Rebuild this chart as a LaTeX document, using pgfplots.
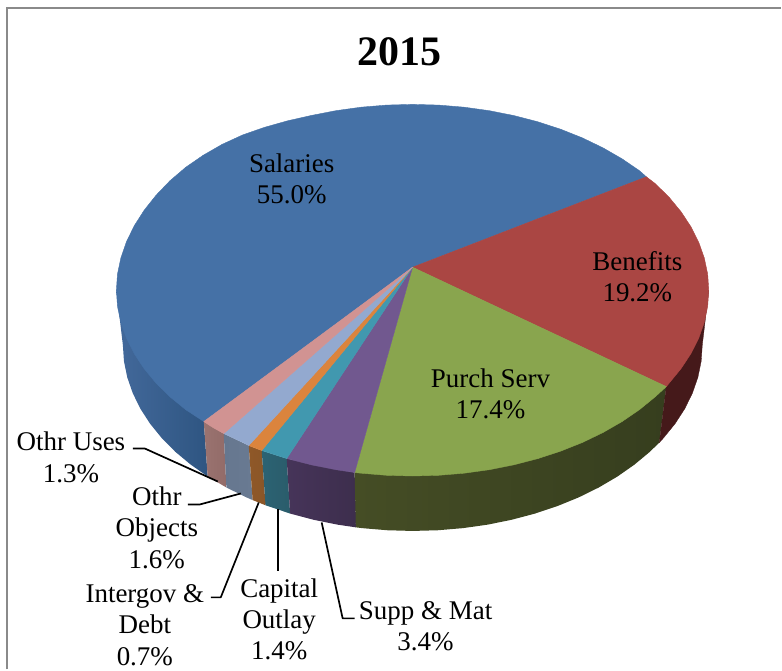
\documentclass[border=0pt]{standalone}
\usepackage{pgfplots}
\pgfplotsset{compat=1.18}
\usepackage{fontspec}
\setmainfont{Liberation Serif}
\definecolor{cBlue}{HTML}{4571A6}
\definecolor{cRed}{HTML}{AA4643}
\definecolor{cGreen}{HTML}{89A54E}
\definecolor{cPurple}{HTML}{71588F}
\definecolor{cTeal}{HTML}{4198AF}
\definecolor{cOrange}{HTML}{DB843D}
\definecolor{cPeri}{HTML}{93A9CF}
\definecolor{cPink}{HTML}{D19392}
\definecolor{frameC}{HTML}{8A8A8A}
\definecolor{wBlueL}{HTML}{43699B}
\definecolor{wBlueR}{HTML}{2D5480}
\definecolor{wRed}{HTML}{45191A}
\definecolor{wGreenL}{HTML}{454D25}
\definecolor{wGreenM}{HTML}{38401F}
\definecolor{wGreenR}{HTML}{363E1E}
\definecolor{wPurpleL}{HTML}{463459}
\definecolor{wPurpleR}{HTML}{3D2E4D}
\definecolor{wTealL}{HTML}{2C6373}
\definecolor{wTealR}{HTML}{2A5C6B}
\definecolor{wOrangeL}{HTML}{8F5828}
\definecolor{wOrangeR}{HTML}{8A5628}
\definecolor{wPeriL}{HTML}{66778F}
\definecolor{wPeriR}{HTML}{697A92}
\definecolor{wPinkL}{HTML}{9A7370}
\definecolor{wPinkR}{HTML}{926B68}
\tikzset{lab/.style={align=center,font=\fontsize{27}{31.5}\selectfont,text=black,inner sep=0pt}}
\pgfplotsset{
 ptop/.style={fill=#1,draw=#1,line width=0.4pt,line join=round},
 pwall/.style 2 args={draw=none,left color=#1,right color=#2},
 lead/.style={draw=black,line width=1.7pt,line join=round}}
\begin{document}
\begin{tikzpicture}
\begin{axis}[hide axis,scale only axis,width=782pt,height=670pt,
  xmin=-413,xmax=369,ymin=-379.5,ymax=290.5,clip=false]
\path (axis cs:-413,-379.5) rectangle (axis cs:369,290.5);
% frame
\addplot[draw=frameC,line width=1.6pt] coordinates {(-405.7,-379.5)(-405.7,282.5)(369,282.5)};
% side walls
\addplot[pwall={wBlueL}{wBlueR}] coordinates {(-209,-131.5)(-205.1,-186.5)(-222.1,-174.6)(-237.6,-161.7)(-251.1,-148)(-262.8,-133.6)(-272.5,-118.6)(-280.1,-103.1)(-285.6,-87.3)(-288.9,-71.2)(-290,-55)(-296.5,0)(-200,-50)} -- cycle;
\addplot[pwall={wPinkL}{wPinkR}] coordinates {(-189,-143.5)(-186.4,-197.5)(-205.1,-186.5)(-209,-131.5)} -- cycle;
\addplot[pwall={wPeriL}{wPeriR}] coordinates {(-164,-155.5)(-160.1,-210.1)(-166.3,-207.4)(-186.4,-197.5)(-189,-143.5)} -- cycle;
\addplot[pwall={wOrangeL}{wOrangeR}] coordinates {(-151,-160.5)(-147.2,-215.3)(-160.1,-210.1)(-164,-155.5)} -- cycle;
\addplot[pwall={wTealL}{wTealR}] coordinates {(-126,-168.5)(-122.6,-223.6)(-147.2,-215.3)(-151,-160.5)} -- cycle;
\addplot[pwall={wPurpleL}{wPurpleR}] coordinates {(-58,-182.5)(-56.8,-237.4)(-75.1,-234.7)(-99.2,-229.8)(-122.6,-223.6)(-126,-168.5)} -- cycle;
\addplot[draw=none,left color=wGreenL,middle color=wGreenM,right color=wGreenR] coordinates {(254,-96.5)(247,-152.5)(237.6,-161.7)(222.1,-174.6)(205.1,-186.5)(186.4,-197.5)(166.3,-207.4)(145,-216.1)(122.6,-223.6)(99.2,-229.8)(75.1,-234.7)(50.3,-238.2)(25.3,-240.3)(0,-241)(-25.3,-240.3)(-50.3,-238.2)(-56.8,-237.4)(-58,-182.5)(0,-150)} -- cycle;
\addplot[fill=wRed,draw=wRed,line width=0.3pt] coordinates {(254,-96.5)(247,-152.5)(251.1,-148)(262.8,-133.6)(272.5,-118.6)(280.1,-103.1)(285.6,-87.3)(288.9,-71.2)(290,-55)(296.5,0)(200,-50)} -- cycle;
% top surface
\addplot[ptop=cBlue] coordinates {(0,23)(234,113.5)(227.1,119.6)(209.7,131.5)(190.6,142.5)(170.1,152.4)(148.3,161.1)(125.3,168.6)(101.4,174.8)(76.7,179.7)(51.5,183.2)(25.9,185.3)(0,186)(-25.9,185.3)(-51.5,183.2)(-76.7,179.7)(-101.4,174.9)(-125.3,169.5)(-148.3,163)(-170.1,155.4)(-190.6,146)(-209.7,135)(-227.1,123)(-242.9,109.5)(-256.8,95)(-268.7,80)(-278.6,64.5)(-286.4,48.5)(-292,32.3)(-295.4,16.2)(-296.5,0)(-295.4,-16.2)(-292,-32.3)(-286.4,-48.1)(-278.6,-63.6)(-268.7,-78.6)(-256.8,-93)(-242.9,-106.7)(-227.1,-119.6)(-209,-131.5)} -- cycle;
\addplot[ptop=cRed] coordinates {(0,23)(234,113.5)(242.9,106.7)(256.8,93)(268.7,78.6)(278.6,63.6)(286.4,48.1)(292,32.3)(295.4,16.2)(296.5,0)(295.4,-16.2)(292,-32.3)(286.4,-48.1)(278.6,-63.6)(268.7,-78.6)(254,-96.5)} -- cycle;
\addplot[ptop=cGreen] coordinates {(0,23)(254,-96.5)(242.9,-106.7)(227.1,-119.6)(209.7,-131.5)(190.6,-142.5)(170.1,-152.4)(148.3,-161.1)(125.3,-168.6)(101.4,-174.8)(76.7,-179.7)(51.5,-183.2)(25.9,-185.3)(0,-186)(-25.9,-185.3)(-51.5,-183.2)(-58,-182.5)} -- cycle;
\addplot[ptop=cPurple] coordinates {(0,23)(-58,-182.5)(-76.7,-179.7)(-101.4,-174.8)(-126,-168.5)} -- cycle;
\addplot[ptop=cTeal] coordinates {(0,23)(-126,-168.5)(-151,-160.5)} -- cycle;
\addplot[ptop=cOrange] coordinates {(0,23)(-151,-160.5)(-164,-155.5)} -- cycle;
\addplot[ptop=cPeri] coordinates {(0,23)(-164,-155.5)(-170.1,-152.4)(-189,-143.5)} -- cycle;
\addplot[ptop=cPink] coordinates {(0,23)(-189,-143.5)(-199.5,-137.7)(-209,-131.5)} -- cycle;
% leader lines
\addplot[lead] coordinates {(-280,-158.5)(-268,-158.5)(-195,-191.5)};
\addplot[lead] coordinates {(-225,-214.5)(-213,-214.5)(-172,-203.5)};
\addplot[lead] coordinates {(-202,-307.5)(-192,-307.5)(-154,-212.5)};
\addplot[lead] coordinates {(-135,-219.5)(-135,-281.5)};
\addplot[lead] coordinates {(-91,-232.5)(-70,-328.5)(-58,-328.5)};
% text
\node[inner sep=0pt,font=\fontsize{42}{48}\selectfont\bfseries] at (axis cs:-13,238.5) {2015};
\node[lab] at (axis cs:-121,111.5) {Salaries\\55.0\%};
\node[lab] at (axis cs:225,13.5) {Benefits\\19.2\%};
\node[lab] at (axis cs:78,-103.5) {Purch Serv\\17.4\%};
\node[lab] at (axis cs:-342,-167.5) {Othr Uses\\1.3\%};
\node[lab] at (axis cs:-256,-237.5) {Othr\\Objects\\1.6\%};
\node[lab] at (axis cs:-268,-335) {Intergov \&\\Debt\\0.7\%};
\node[lab] at (axis cs:-133.5,-329.5) {Capital\\Outlay\\1.4\%};
\node[lab] at (axis cs:13,-336.5) {Supp \& Mat\\3.4\%};
\end{axis}
\end{tikzpicture}
\end{document}
